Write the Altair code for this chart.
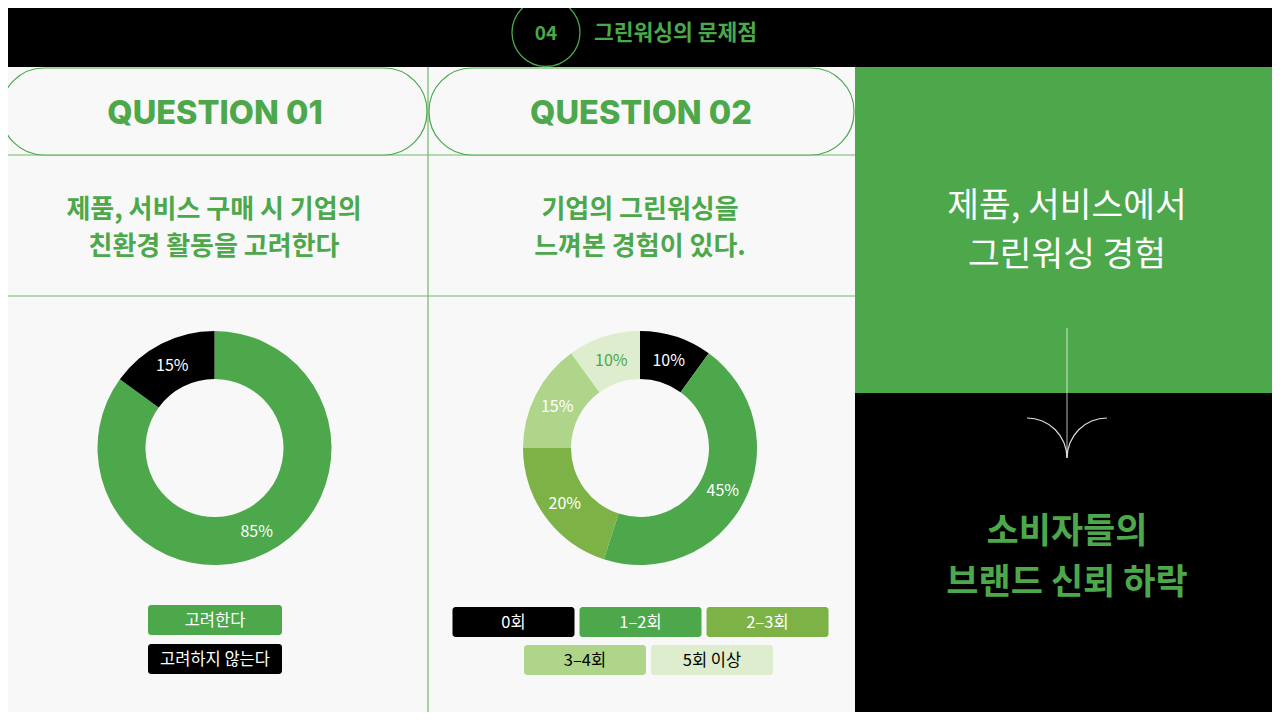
import math
import altair as alt
import pandas as pd

# ---------------- data ----------------
q1_categories = ["고려한다", "고려하지 않는다"]
q1_values = [85, 15]
q2_categories = ["0회", "1–2회", "2–3회", "3–4회", "5회 이상"]
q2_values = [10, 45, 20, 15, 10]

header_number = "04"
header_title = "그린워싱의 문제점"
q_titles = ["QUESTION 01", "QUESTION 02"]
q1_text = ["제품, 서비스 구매 시 기업의", "친환경 활동을 고려한다"]
q2_text = ["기업의 그린워싱을", "느껴본 경험이 있다."]
side_top = ["제품, 서비스에서", "그린워싱 경험"]
side_bottom = ["소비자들의", "브랜드 신뢰 하락"]

# ---------------- style ----------------
GREEN = "#4CA84B"
BG = "#F8F8F8"
LINE = "#6CB96B"
KR = "Noto Sans CJK KR"
q1_fill = [GREEN, "#000000"]
q1_label = ["#FFFFFF", "#FFFFFF"]
q1_legend_text = ["#FFFFFF", "#FFFFFF"]
q2_fill = ["#000000", GREEN, "#7DB346", "#AED58A", "#DDEDCE"]
q2_label = ["#FFFFFF", "#FFFFFF", "#FFFFFF", "#FFFFFF", GREEN]
q2_legend_text = ["#FFFFFF", "#FFFFFF", "#FFFFFF", "#000000", "#000000"]

M = 8
W, H = 1280 - 2 * M, 720 - 2 * M


def P(v):
    return v - M


one = pd.DataFrame({"k": [0]})


def box(x1, y1, x2, y2, fill, stroke=None, sw=0, cr=0):
    props = dict(fill=fill, cornerRadius=cr)
    if stroke:
        props.update(stroke=stroke, strokeWidth=sw)
    else:
        props.update(strokeWidth=0)
    return alt.Chart(one).mark_rect(**props).encode(
        x=alt.value(P(x1)), x2=alt.value(P(x2)),
        y=alt.value(P(y1)), y2=alt.value(P(y2)))


def rule(x1, y1, x2, y2, color, sw=1.0, opacity=1.0):
    return alt.Chart(one).mark_rule(color=color, strokeWidth=sw, opacity=opacity).encode(
        x=alt.value(P(x1)), x2=alt.value(P(x2)),
        y=alt.value(P(y1)), y2=alt.value(P(y2)))


def label(txt, x, y, size, color, weight=400, font=KR, align="center"):
    return alt.Chart(one).mark_text(
        text=txt, fontSize=size, color=color, fontWeight=weight, font=font,
        align=align, baseline="middle", dy=2).encode(x=alt.value(P(x)), y=alt.value(P(y)))


def thin_arc(cx, cy, r, t1, t2, color):
    return alt.Chart(one).mark_arc(
        innerRadius=r - 0.6, outerRadius=r + 0.6, theta=t1, theta2=t2,
        fill=color, strokeWidth=0).encode(x=alt.value(P(cx)), y=alt.value(P(cy)))


def donut(cats, vals, cx, cy, fills, lcols):
    df = pd.DataFrame({"c": cats, "v": vals, "i": list(range(len(cats))),
                       "lab": [f"{v}%" for v in vals]})
    base = alt.Chart(df).encode(
        theta=alt.Theta("v:Q", stack=True),
        order=alt.Order("i:Q", sort="ascending"),
        x=alt.value(P(cx)), y=alt.value(P(cy)))
    arcs = base.mark_arc(innerRadius=69, outerRadius=117, strokeWidth=0).encode(
        color=alt.Color("c:N", scale=alt.Scale(domain=cats, range=fills), legend=None))
    labs = base.mark_text(radius=93, fontSize=16, font=KR, dy=1).encode(
        text="lab:N",
        color=alt.Color("c:N", scale=alt.Scale(domain=cats, range=lcols), legend=None))
    return [arcs, labs]


def legend(cats, fills, tcols, rows, w, h, gap):
    recs = []
    k = 0
    for n, cx, top in rows:
        total = n * w + (n - 1) * gap
        x0 = cx - total / 2
        for j in range(n):
            x1 = x0 + j * (w + gap)
            recs.append(dict(c=cats[k], x1=P(x1), x2=P(x1 + w), y1=P(top), y2=P(top + h),
                             tx=P(x1 + w / 2), ty=P(top + h / 2)))
            k += 1
    df = pd.DataFrame(recs)
    boxes = alt.Chart(df).mark_rect(cornerRadius=3, strokeWidth=0).encode(
        x=alt.X("x1:Q", scale=None, axis=None), x2="x2:Q",
        y=alt.Y("y1:Q", scale=None, axis=None), y2="y2:Q",
        color=alt.Color("c:N", scale=alt.Scale(domain=cats, range=fills), legend=None))
    texts = alt.Chart(df).mark_text(fontSize=16.5, font=KR, baseline="middle", dy=1).encode(
        x=alt.X("tx:Q", scale=None, axis=None),
        y=alt.Y("ty:Q", scale=None, axis=None),
        text="c:N",
        color=alt.Color("c:N", scale=alt.Scale(domain=cats, range=tcols), legend=None))
    return [boxes, texts]


layers = [
    box(0, 0, 1280, 67, "#000000"),
    box(0, 67, 855, 720, BG),
    box(855, 67, 1280, 393, GREEN),
    box(855, 393, 1280, 720, "#000000"),
    rule(0, 155, 855, 155, LINE, 1.2),
    rule(0, 296, 855, 296, LINE, 1.2),
    rule(428, 67, 428, 720, LINE, 1.2),
    box(1, 68, 427, 155, BG, stroke=GREEN, sw=1.2, cr=43),
    box(429, 68, 854, 155, BG, stroke=GREEN, sw=1.2, cr=43),
    alt.Chart(one).mark_point(shape="circle", size=68 * 68, filled=False,
                              stroke=GREEN, strokeWidth=1.3, opacity=1).encode(
        x=alt.value(P(546)), y=alt.value(P(32.5))),
    label(header_number, 546, 32, 19, GREEN, 700),
    label(header_title, 594, 32, 21.5, GREEN, 700, align="left"),
    label(q_titles[0], 215, 112, 32.5, GREEN, 800, font="Inter"),
    label(q_titles[1], 641, 112, 32.5, GREEN, 800, font="Inter"),
    label(q1_text[0], 214, 208, 26, GREEN, 700),
    label(q1_text[1], 214, 245, 26, GREEN, 700),
    label(q2_text[0], 640, 208, 26, GREEN, 700),
    label(q2_text[1], 640, 245, 26, GREEN, 700),
    label(side_top[0], 1067, 205, 34.5, "#FFFFFF", 400),
    label(side_top[1], 1067, 254, 34.5, "#FFFFFF", 400),
    label(side_bottom[0], 1067, 530, 35, GREEN, 700),
    label(side_bottom[1], 1067, 581, 35, GREEN, 700),
    rule(1067, 328, 1067, 457, "#FFFFFF", 1.2, 0.6),
    thin_arc(1027, 458, 40, 0, math.pi / 2, "#DDDDDD"),
    thin_arc(1107, 458, 40, 3 * math.pi / 2, 2 * math.pi, "#DDDDDD"),
]
layers += donut(q1_categories, q1_values, 214.5, 448, q1_fill, q1_label)
layers += donut(q2_categories, q2_values, 640, 448, q2_fill, q2_label)
layers += legend(q1_categories, q1_fill, q1_legend_text,
                 [(1, 215, 605), (1, 215, 644)], 134, 30, 5)
layers += legend(q2_categories, q2_fill, q2_legend_text,
                 [(3, 640.5, 607), (2, 648.5, 645)], 122, 30, 5)

chart = alt.layer(*layers).properties(
    width=W, height=H, padding=0, background=BG,
    autosize=alt.AutoSizeParams(type="none"),
).resolve_scale(
    color="independent", theta="independent", x="independent", y="independent"
).configure_view(strokeWidth=0)

chart.save("out.html", embed_options={"renderer": "svg", "actions": False})
